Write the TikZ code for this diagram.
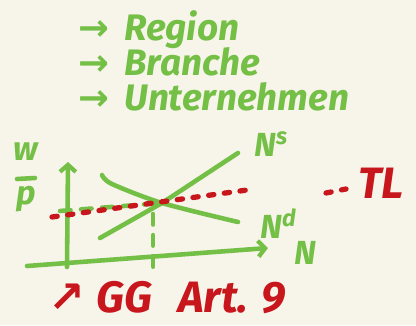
\documentclass[tikz,border=0pt]{standalone}
\usepackage{fontspec}
\setmainfont{Fira Sans}
\newfontfamily\symfont{DejaVu Sans}
\usetikzlibrary{arrows.meta}
\definecolor{bg}{HTML}{F7F4EA}
\definecolor{hg}{HTML}{74BF45}
\definecolor{hr}{HTML}{C8161D}
\begin{document}
\begin{tikzpicture}[x=0.02cm,y=-0.02cm,
  ink/.style={line width=2.6pt, line cap=round, line join=round},
  gtxt/.style={text=hg, inner sep=0pt, font=\fontsize{21}{23}\selectfont\bfseries\itshape},
  ltxt/.style={text=hg, inner sep=0pt, font=\fontsize{19}{21}\selectfont\bfseries\itshape},
  rtxt/.style={text=hr, inner sep=0pt, font=\fontsize{25}{27}\selectfont\bfseries\itshape},
  axtip/.style={-{Straight Barb[length=4pt,width=9pt,line width=2.4pt]}},
  reddots/.style={ink, hr, line width=3pt, dash pattern=on 3pt off 6pt},
  gdash/.style={ink, hg, dash pattern=on 6pt off 6pt}]
\fill[bg] (0,0) rectangle (416,325);
\useasboundingbox (0,0) rectangle (416,325);
% list
\node[gtxt, anchor=base west] (a1) at (78,40) {{\symfont →}};
\node[gtxt, anchor=base west] (t1) at (124,40) {Region};
\node[gtxt, anchor=base west] (a2) at (78,75) {{\symfont →}};
\node[gtxt, anchor=base west] (t2) at (124,75) {Branche};
\node[gtxt, anchor=base west] (a3) at (78,110) {{\symfont →}};
\node[gtxt, anchor=base west] (t3) at (124,110) {Unternehmen};
% axes
\coordinate (o) at (67,267);
\coordinate (ytop) at (68,162);
\coordinate (xl) at (27,266);
\coordinate (xr) at (268,248);
\draw[ink, hg, axtip] (o) -- (ytop);
\draw[ink, hg, axtip] (xl) -- (xr);
\node[ltxt, anchor=base west] (nx) at (294,264) {N};
\node[ltxt, anchor=base] (w) at (26,160) {w};
\node[ltxt, anchor=base] (p) at (26,204) {p};
\draw[ink, hg] (17,179) -- (35,178);
% curves
\coordinate (eq) at (162,203);
\draw[ink, hg] (100,238) -- (eq) -- (238,153);
\draw[ink, hg] plot[smooth] coordinates {(102,175) (112,184) (eq) (238,222)};
\node[ltxt, anchor=base west] (ns) at (254,156) {N\textsuperscript{s}};
\node[ltxt, anchor=base west] (nd) at (260,238) {N\textsuperscript{d}};
% dashed helpers
\draw[gdash] (60,211) -- (eq);
\draw[gdash] (153,214) -- (153,272);
% red wage line
\draw[reddots] (52,217) -- (247,190);
\draw[reddots] (326,193) -- (346,189);
\node[rtxt, anchor=base west] (tl) at (358,198) {TL};
% bottom
\node[rtxt, anchor=base west] (ar) at (48,312) {{\symfont ↗}};
\node[rtxt, anchor=base west] (gg) at (96,312) {GG};
\node[rtxt, anchor=base west] (art) at (178,312) {Art. 9};
\end{tikzpicture}
\end{document}
